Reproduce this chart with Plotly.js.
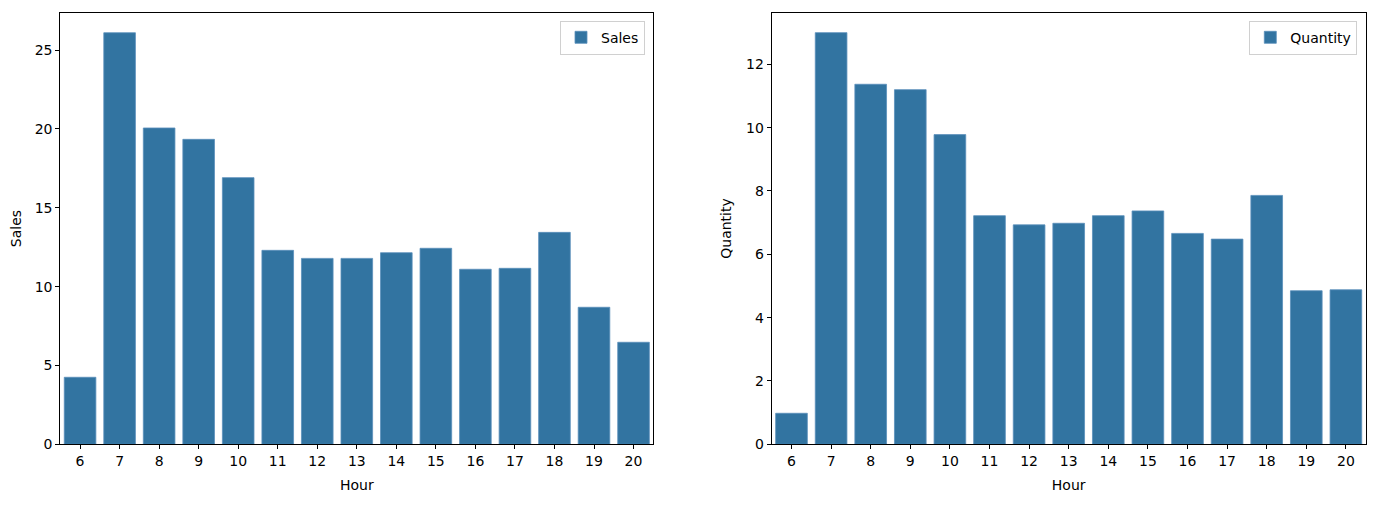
<!DOCTYPE html>
<html>
<head>
<meta charset="utf-8">
<script src="https://cdn.plot.ly/plotly-3.0.1.min.js"></script>
<style>html,body{margin:0;padding:0;background:#fff;}#chart{width:1373px;height:511px;}</style>
</head>
<body>
<div id="chart"></div>
<script>
const hours = ["6","7","8","9","10","11","12","13","14","15","16","17","18","19","20"];
const sales = [4.25, 26.1, 20.06, 19.34, 16.91, 12.30, 11.79, 11.79, 12.15, 12.43, 11.10, 11.16, 13.44, 8.69, 6.47];
const quantity = [0.98, 13.0, 11.37, 11.20, 9.78, 7.22, 6.93, 6.98, 7.22, 7.37, 6.66, 6.48, 7.86, 4.85, 4.88];

const barColor = '#3274a1';
const font = {family: 'DejaVu Sans, sans-serif', size: 14, color: '#000'};

const traces = [
  {type: 'bar', x: hours, y: sales, name: 'Sales', xaxis: 'x', yaxis: 'y',
   marker: {color: barColor, line: {color: '#5b8fbb', width: 0.8}}, width: 0.8, legend: 'legend'},
  {type: 'bar', x: hours, y: quantity, name: 'Quantity', xaxis: 'x2', yaxis: 'y2',
   marker: {color: barColor, line: {color: '#5b8fbb', width: 0.8}}, width: 0.8, legend: 'legend2'}
];

function xax(domain, anchor) {
  return {domain: domain, anchor: anchor, type: 'category', range: [-0.5, 14.5],
    showline: true, mirror: true, linecolor: '#000', linewidth: 1,
    ticks: 'outside', ticklen: 4, tickcolor: '#000', showgrid: false, zeroline: false,
    tickfont: font, title: {text: 'Hour', font: font, standoff: 12}, automargin: false};
}
function yax(domain, anchor, range, dtick, title, standoff) {
  return {domain: domain, anchor: anchor, range: range, dtick: dtick, tick0: 0,
    showline: true, mirror: true, linecolor: '#000', linewidth: 1,
    ticks: 'outside', ticklen: 4, tickcolor: '#000', showgrid: false, zeroline: false,
    tickfont: font, title: {text: title, font: font, standoff: standoff}, automargin: false};
}

const yd = [66.7/511, 498.3/511];
const layout = {
  width: 1373, height: 511,
  margin: {l: 0, r: 0, t: 0, b: 0},
  paper_bgcolor: '#fff', plot_bgcolor: '#fff',
  font: font,
  bargap: 0.2,
  xaxis: xax([60.3/1373, 653.3/1373], 'y'),
  yaxis: yax(yd, 'x', [0, 27.37], 5, 'Sales', 9),
  xaxis2: xax([771.7/1373, 1365.7/1373], 'y2'),
  yaxis2: yax(yd, 'x2', [0, 13.63], 2, 'Quantity', 11),
  legend: {x: 645/1373, y: 1 - 20.7/511, xanchor: 'right', yanchor: 'top',
    bordercolor: '#d0d0d0', borderwidth: 1, bgcolor: '#fff', font: font},
  legend2: {x: 1357.3/1373, y: 1 - 20.7/511, xanchor: 'right', yanchor: 'top',
    bordercolor: '#d0d0d0', borderwidth: 1, bgcolor: '#fff', font: font},
  showlegend: true
};

Plotly.newPlot('chart', traces, layout, {displayModeBar: false, staticPlot: true});
</script>
</body>
</html>
